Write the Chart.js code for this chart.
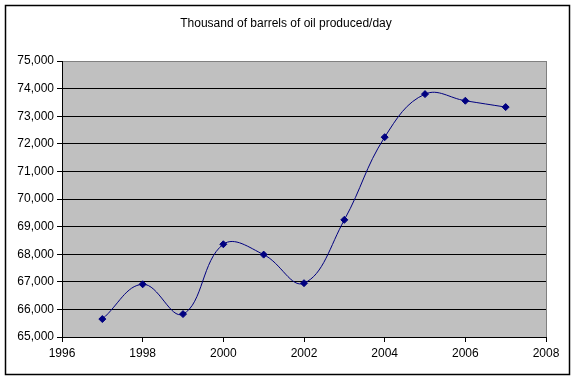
<!DOCTYPE html>
<html lang="en">

<head>
    <meta charset="UTF-8">
    <title>Oil production</title>
    <script src="https://cdn.jsdelivr.net/npm/chart.js"></script>
    <style>
        body {
            margin: 0;
            background: #ffffff;
        }

        .grafico {
            position: relative;
            width: 576px;
            height: 381px;
        }
    </style>
</head>

<body>
    <div class="grafico">
        <canvas id="chartPetroleo"></canvas>
    </div>

    <script>
        // valores
        var anos = [1997, 1998, 1999, 2000, 2001, 2002, 2003, 2004, 2005, 2006, 2007];
        var barris = [65650, 66910, 65830, 68360, 67985, 66950, 69245, 72240, 73800, 73560, 73330];
        var titulo = 'Thousand of barrels of oil produced/day';
        var xMin = 1996, xMax = 2008, xPasso = 2;
        var yMin = 65000, yMax = 75000, yPasso = 1000;

        var pontos = [];
        anos.forEach((ano, i) => {
            pontos.push({ x: ano, y: barris[i] });
        });

        const fonte = { family: 'Liberation Sans, Arial, sans-serif', size: 12 };

        // fundo cinza da area do grafico, titulo e moldura externa
        const fundo = {
            id: 'fundo',
            beforeDraw(chart) {
                const c = chart.ctx;
                const a = chart.chartArea;
                c.save();
                c.fillStyle = '#c0c0c0';
                c.fillRect(a.left, a.top, a.right - a.left, a.bottom - a.top);
                c.strokeStyle = '#808080';
                c.lineWidth = 1;
                c.strokeRect(a.left + 0.5, a.top + 0.5, a.right - a.left, a.bottom - a.top);
                c.restore();
            },
            afterDraw(chart) {
                const c = chart.ctx;
                c.save();
                c.strokeStyle = '#000000';
                c.lineWidth = 1.5;
                c.strokeRect(5.5, 5.5, 564, 369);
                c.fillStyle = '#000000';
                c.font = '12px ' + fonte.family;
                c.textAlign = 'center';
                c.textBaseline = 'alphabetic';
                c.fillText(titulo, 286, 27);
                c.restore();
            }
        };

        const ctx = document.getElementById('chartPetroleo');

        new Chart(ctx, {
            type: 'scatter',
            data: {
                datasets: [{
                    label: titulo,
                    data: pontos,
                    showLine: true,
                    tension: 0.4,
                    borderColor: '#000080',
                    borderWidth: 1,
                    backgroundColor: '#000080',
                    pointStyle: 'rectRot',
                    pointRadius: 3.5,
                    pointBorderWidth: 1
                }]
            },
            options: {
                responsive: true,
                maintainAspectRatio: false,
                animation: false,
                layout: {
                    padding: { top: 61, left: 6, right: 30, bottom: 14 }
                },
                plugins: {
                    legend: { display: false },
                    tooltip: { enabled: false },
                    title: { display: false }
                },
                scales: {
                    x: {
                        type: 'linear',
                        min: xMin,
                        max: xMax,
                        afterFit: s => { s.height = 30; },
                        ticks: {
                            stepSize: xPasso,
                            color: '#000000',
                            font: fonte,
                            padding: 4,
                            maxRotation: 0,
                            callback: v => String(v)
                        },
                        grid: {
                            drawOnChartArea: false,
                            drawTicks: true,
                            tickLength: 5,
                            tickColor: '#000000'
                        },
                        border: { color: '#000000', width: 1 }
                    },
                    y: {
                        min: yMin,
                        max: yMax,
                        afterFit: s => { s.width = 56; },
                        ticks: {
                            stepSize: yPasso,
                            color: '#000000',
                            font: fonte,
                            padding: 3,
                            callback: v => v.toLocaleString('en-US')
                        },
                        grid: {
                            color: c => (c.tick && c.tick.value === yMax) ? '#808080' : '#000000',
                            lineWidth: 1,
                            drawTicks: true,
                            tickLength: 5,
                            tickColor: '#000000'
                        },
                        border: { color: '#000000', width: 1 }
                    }
                }
            },
            plugins: [fundo]
        });
    </script>
</body>

</html>
